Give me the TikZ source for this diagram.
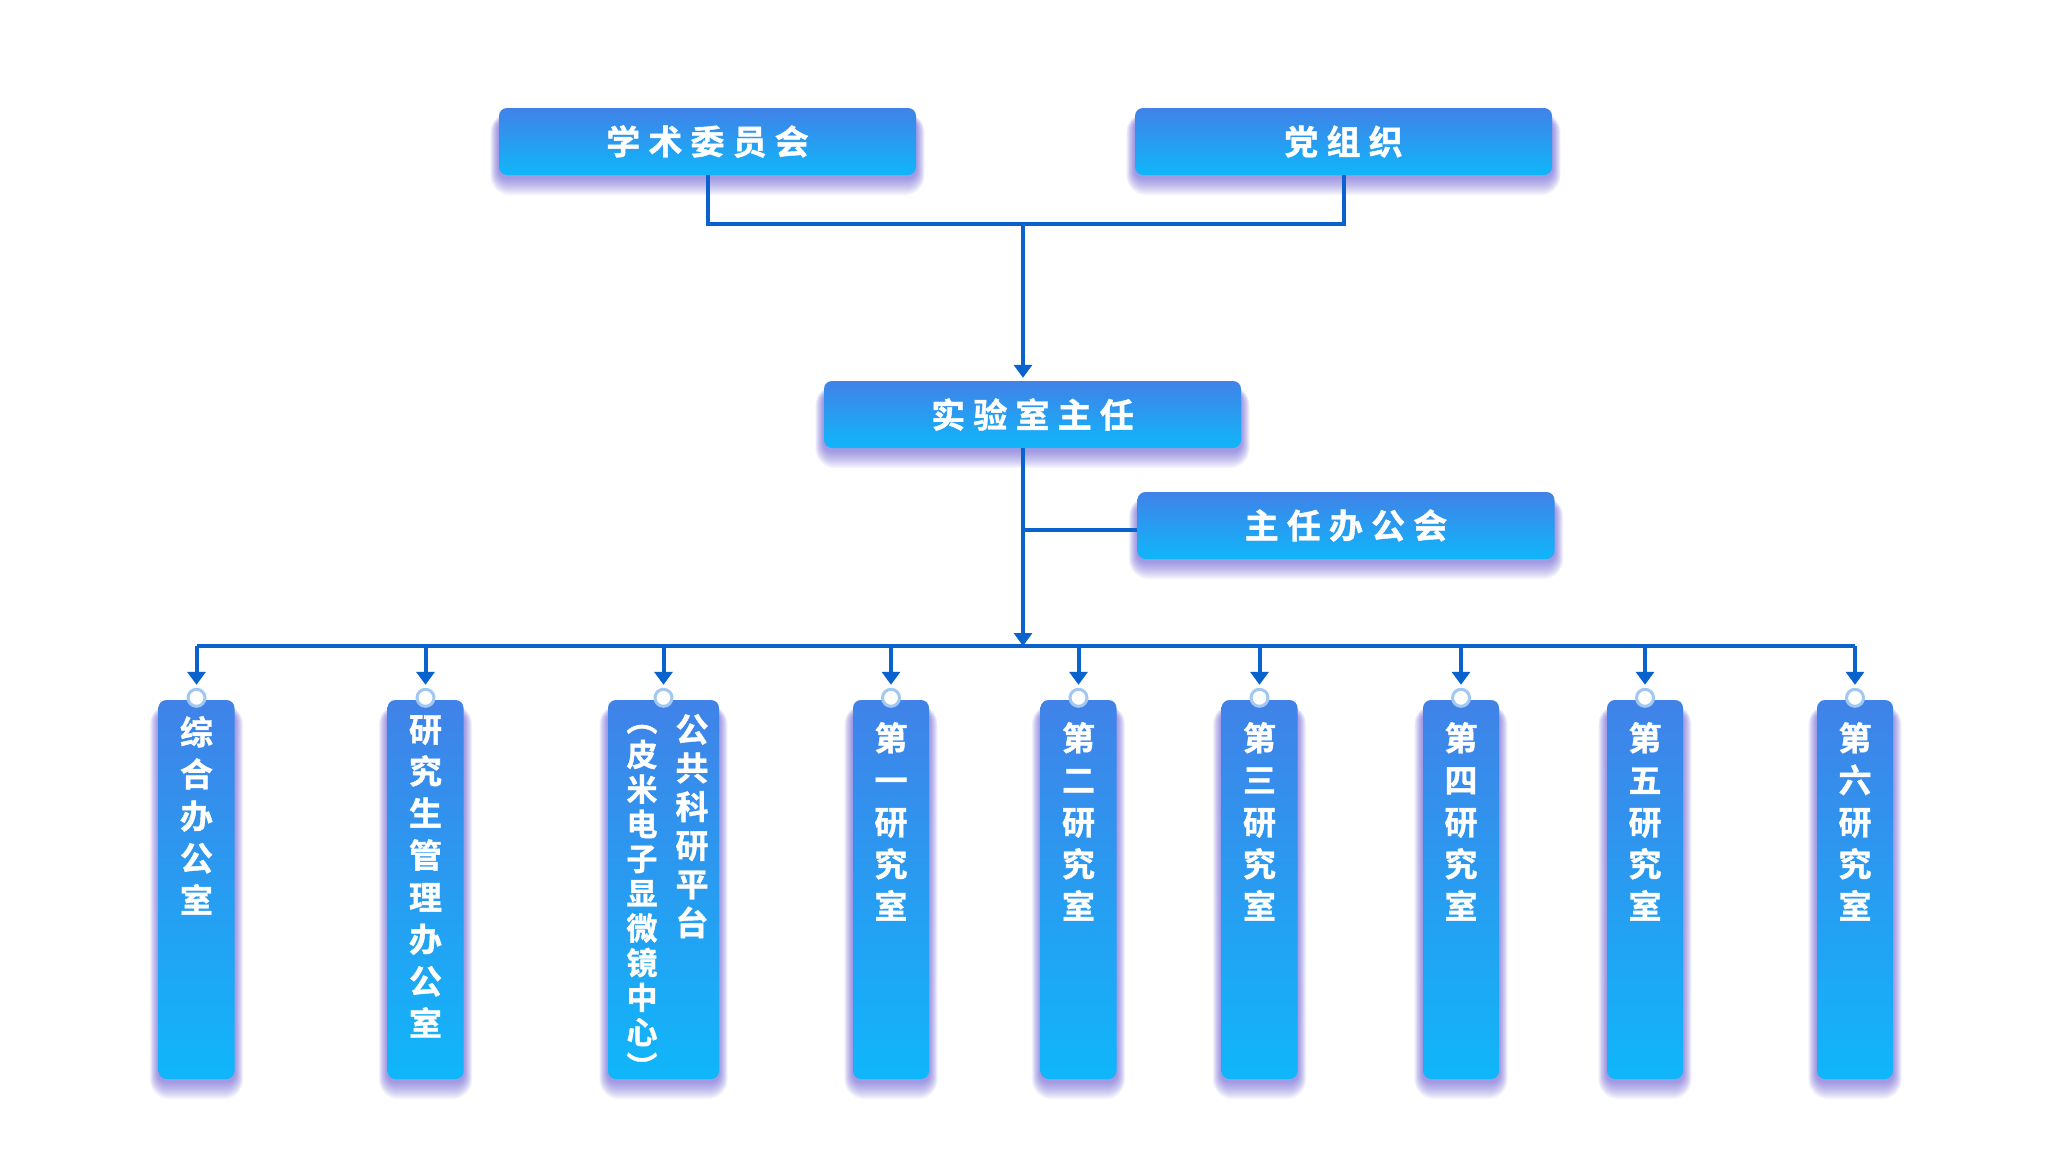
\documentclass[tikz,border=0pt]{standalone}
\usepackage{fontspec}
\usepackage{tikz}
\usetikzlibrary{calc,arrows.meta,backgrounds}
\newfontfamily\cjk{Noto Sans CJK SC Bold}[FakeBold=1.2]
\definecolor{boxtop}{RGB}{64,130,232}
\definecolor{boxbot}{RGB}{16,182,250}
\definecolor{linkc}{RGB}{10,98,204}
\definecolor{ringc}{RGB}{160,200,242}
\definecolor{glowc}{RGB}{82,68,208}
\newcommand{\gp}{\hspace{0.24em}}
% soft purple glow under a box node
\newcommand{\boxglow}[1]{%
  \begin{pgfonlayer}{background}
    \foreach \g in {1,...,12}
      \fill[glowc,opacity=0.06,rounded corners=8+\g] ($(#1.north west)+(-0.7*\g,12-0.6*\g)$) rectangle ($(#1.south east)+(0.7*\g,2+1.5*\g)$);
  \end{pgfonlayer}}
\tikzset{
  topbox/.style={rounded corners=8pt,top color=boxtop,bottom color=boxbot,minimum width=417pt,minimum height=67pt,inner sep=0pt,text=white,font=\cjk\fontsize{34}{40}\selectfont},
  colbox/.style={rounded corners=8pt,top color=boxtop,bottom color=boxbot,minimum width=76pt,minimum height=379pt,inner sep=0pt},
  coltext/.style={anchor=north,text=white,align=center,inner sep=0pt,font=\cjk\fontsize{33}{42}\selectfont},
  knob/.style={circle,fill=white,draw=ringc,line width=3pt,minimum size=17pt,inner sep=0pt},
  link/.style={draw=linkc,line width=4pt},
  tip/.style={-{Triangle[width=18pt,length=13pt]}},
}

\begin{document}
\begin{tikzpicture}[x=1pt,y=1pt,yscale=-1,xscale=1]
    \begin{pgfonlayer}{background}
      \fill[white] (0,0) rectangle (2048,1151);
    \end{pgfonlayer}
    \useasboundingbox (0,0) rectangle (2048,1151);

    %Shape: top row
    \node[topbox] (xs) at (707.5,141.5) {学\gp 术\gp 委\gp 员\gp 会};
    \node[topbox] (dz) at (1343.5,141.5) {党\gp 组\gp 织};
    %Shape: director
    \node[topbox] (zr) at (1032.5,414.5) {实\gp 验\gp 室\gp 主\gp 任};
    \node[topbox] (bg) at (1346,525.5) {主\gp 任\gp 办\gp 公\gp 会};
    \boxglow{xs} \boxglow{dz} \boxglow{zr} \boxglow{bg}

    % junctions
    \coordinate (hub) at (1023,224);
    \coordinate (split) at (1023,530);
    \coordinate (bus) at (1023,646);

    %Shape: columns
    \node[colbox] (c1) at (196.5,889.5) {};
    \node[colbox] (c2) at (425.5,889.5) {};
    \node[colbox,minimum width=111pt] (c3) at (663.5,889.5) {};
    \node[colbox] (c4) at (891,889.5) {};
    \node[colbox] (c5) at (1078.5,889.5) {};
    \node[colbox] (c6) at (1259.5,889.5) {};
    \node[colbox] (c7) at (1461,889.5) {};
    \node[colbox] (c8) at (1645,889.5) {};
    \node[colbox] (c9) at (1855,889.5) {};
    \boxglow{c1} \boxglow{c2} \boxglow{c3} \boxglow{c4} \boxglow{c5}
    \boxglow{c6} \boxglow{c7} \boxglow{c8} \boxglow{c9}

    %Shape: knobs
    \node[knob] (k1) at ($(c1.north)+(0,-2)$) {};
    \node[knob] (k2) at ($(c2.north)+(0,-2)$) {};
    \node[knob] (k3) at ($(c3.north)+(0,-2)$) {};
    \node[knob] (k4) at ($(c4.north)+(0,-2)$) {};
    \node[knob] (k5) at ($(c5.north)+(0,-2)$) {};
    \node[knob] (k6) at ($(c6.north)+(0,-2)$) {};
    \node[knob] (k7) at ($(c7.north)+(0,-2)$) {};
    \node[knob] (k8) at ($(c8.north)+(0,-2)$) {};
    \node[knob] (k9) at ($(c9.north)+(0,-2)$) {};

    % Text Node
    \node[coltext] (t1) at (196.5,716) {综\\合\\办\\公\\室};
    \node[coltext] (t2) at (425.5,715) {研\\究\\生\\管\\理\\办\\公\\室};
    \node[coltext,font=\cjk\fontsize{33}{38.7}\selectfont] (t3a) at (692,714) {公\\共\\科\\研\\平\\台};
    \node[coltext,font=\cjk\fontsize{31}{34.7}\selectfont] (t3b) at (642,705) {\vphantom{皮}︵\\皮\\米\\电\\子\\显\\微\\镜\\中\\心\\︶};
    \node[coltext] (t4) at (891,722) {第\\一\\研\\究\\室};
    \node[coltext] (t5) at (1078.5,722) {第\\二\\研\\究\\室};
    \node[coltext] (t6) at (1259.5,722) {第\\三\\研\\究\\室};
    \node[coltext] (t7) at (1461,722) {第\\四\\研\\究\\室};
    \node[coltext] (t8) at (1645,722) {第\\五\\研\\究\\室};
    \node[coltext] (t9) at (1855,722) {第\\六\\研\\究\\室};

    %Straight Lines
    \draw[link] (xs.south) -- (xs.south |- hub) -- (dz.south |- hub) -- (dz.south);
    \draw[link,tip,shorten >=3pt] (hub) -- (hub |- zr.north);
    \draw[link,tip] (hub |- zr.south) -- (bus);
    \draw[link] (split) -- (split -| bg.west);
    \draw[link] (c1.north |- bus) -- (c9.north |- bus);
    \draw[link,tip,shorten >=3pt] (c1.north |- bus) -- (k1.north);
    \draw[link,tip,shorten >=3pt] (c2.north |- bus) -- (k2.north);
    \draw[link,tip,shorten >=3pt] (c3.north |- bus) -- (k3.north);
    \draw[link,tip,shorten >=3pt] (c4.north |- bus) -- (k4.north);
    \draw[link,tip,shorten >=3pt] (c5.north |- bus) -- (k5.north);
    \draw[link,tip,shorten >=3pt] (c6.north |- bus) -- (k6.north);
    \draw[link,tip,shorten >=3pt] (c7.north |- bus) -- (k7.north);
    \draw[link,tip,shorten >=3pt] (c8.north |- bus) -- (k8.north);
    \draw[link,tip,shorten >=3pt] (c9.north |- bus) -- (k9.north);

\end{tikzpicture}
\end{document}
